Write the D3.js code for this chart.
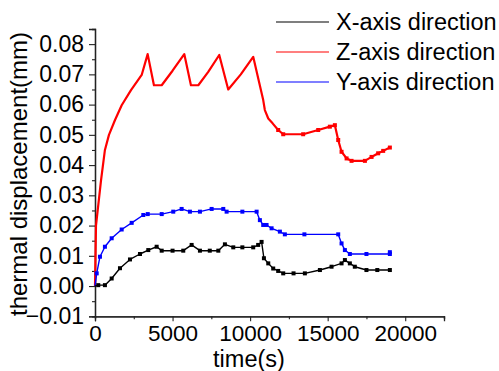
<!DOCTYPE html>
<html>
<head>
<meta charset="utf-8">
<script src="https://cdn.jsdelivr.net/npm/d3@7"></script>
<style>
  html, body { margin: 0; padding: 0; background: #fff; }
  svg { display: block; font-family: Arial, "Liberation Sans", sans-serif; }
</style>
</head>
<body>
<svg id="chart" width="499" height="371"></svg>
<script>
// Time stamps (s) and thermal displacement (mm) for each direction
const timeX = [0, 210, 640, 1075, 1610, 2255, 2900, 3435, 3975, 4300, 5000, 5690, 6230, 6765, 7400, 7950, 8375, 8915, 9500, 10200, 10520, 10740, 10890, 11170, 11490, 11810, 12135, 12800, 13530, 14500, 15250, 15895, 16110, 16430, 16750, 17500, 18200, 19010];
const dispX = [0, 0.0003, 0.0003, 0.0025, 0.0059, 0.0088, 0.0106, 0.0119, 0.0130, 0.0117, 0.0117, 0.0117, 0.0136, 0.0117, 0.0117, 0.0117, 0.0138, 0.0128, 0.0128, 0.0128, 0.0136, 0.0146, 0.0092, 0.0075, 0.0058, 0.0050, 0.0042, 0.0042, 0.0042, 0.0053, 0.0064, 0.0075, 0.0086, 0.0075, 0.0064, 0.0053, 0.0053, 0.0053];

const timeZ = [0, 64, 390, 640, 900, 1290, 1720, 2320, 3010, 3395, 3800, 4300, 5000, 5755, 6185, 6660, 7300, 8010, 8590, 9400, 10200, 10845, 10950, 11170, 11450, 11810, 12135, 13420, 14390, 15140, 15465, 15680, 15895, 16220, 16540, 17400, 17830, 18255, 18580, 19010];
const dispZ = [0, 0.020, 0.035, 0.045, 0.050, 0.0549, 0.0598, 0.0648, 0.0698, 0.0767, 0.0664, 0.0664, 0.0712, 0.0767, 0.0664, 0.0664, 0.0708, 0.0764, 0.0650, 0.0700, 0.0758, 0.0615, 0.0582, 0.0554, 0.0538, 0.0516, 0.0502, 0.0502, 0.0516, 0.0527, 0.0532, 0.0483, 0.0444, 0.0422, 0.0414, 0.0414, 0.0427, 0.0439, 0.0447, 0.0458];

const timeY = [0, 110, 320, 640, 1075, 1720, 2365, 3115, 3400, 4300, 5045, 5585, 6120, 6765, 7520, 8270, 8485, 9500, 10420, 10630, 10845, 11060, 11385, 11920, 12240, 13500, 15680, 15895, 16110, 16430, 17500, 19010, 19010];
const dispY = [0, 0.0042, 0.0097, 0.0130, 0.0158, 0.0187, 0.0209, 0.0235, 0.0238, 0.0238, 0.0246, 0.0255, 0.0246, 0.0246, 0.0255, 0.0255, 0.0246, 0.0246, 0.0246, 0.0218, 0.0202, 0.0202, 0.0191, 0.0180, 0.0171, 0.0171, 0.0171, 0.0141, 0.0119, 0.0106, 0.0106, 0.0106, 0.0112];

const seriesNames = ["X-axis direction", "Z-axis direction", "Y-axis direction"];
const seriesColors = ["#000000", "#ff0000", "#0000ff"];

const xTicks = [0, 5000, 10000, 15000, 20000];
const yTicks = [-0.01, 0.00, 0.01, 0.02, 0.03, 0.04, 0.05, 0.06, 0.07, 0.08];

const svg = d3.select("#chart");

const x = d3.scaleLinear().domain([0, 22500]).range([95, 444]);
const y = d3.scaleLinear().domain([-0.01, 0.085]).range([316.3, 29]);

// Axes: left and bottom only, ticks pointing outward
const yAxis = d3.axisLeft(y).tickValues(yTicks).tickFormat(d3.format(".2f")).tickSize(6).tickPadding(5);
const yMinor = d3.axisLeft(y).tickValues(d3.range(-0.005, 0.085, 0.01)).tickFormat("").tickSize(3);
const xAxis = d3.axisBottom(x).tickValues(xTicks).tickFormat(d3.format("d")).tickSize(5).tickPadding(4);
const xMinor = d3.axisBottom(x).tickValues([2500, 7500, 12500, 17500, 22500]).tickFormat("").tickSize(3);

function styleAxis(g, size) {
  g.select(".domain").attr("stroke", "#222").attr("stroke-width", 1.3);
  g.selectAll(".tick line").attr("stroke", "#222").attr("stroke-width", 1.1);
  g.selectAll(".tick text").attr("fill", "#000").style("font-size", size + "px");
}

svg.append("g").attr("transform", "translate(95,0)").call(yMinor).call(styleAxis, 23);
svg.append("g").attr("transform", "translate(95,0)").call(yAxis).call(styleAxis, 23);
svg.append("g").attr("transform", "translate(0,316.3)").call(xMinor).call(styleAxis, 22.5);
svg.append("g").attr("transform", "translate(0,316.3)").call(xAxis).call(styleAxis, 22.5);

// Axis titles
svg.append("text")
  .attr("x", 249).attr("y", 366.5)
  .attr("text-anchor", "middle")
  .style("font-size", "23.5px")
  .text("time(s)");

svg.append("text")
  .attr("transform", "translate(27,174) rotate(-90)")
  .attr("text-anchor", "middle")
  .style("font-size", "24px")
  .text("thermal displacement(mm)");

// Series lines; small square markers sit on the stepped parts
const series = [
  { t: timeX, v: dispX, color: seriesColors[0], w: 1.4, markFrom: 0 },
  { t: timeZ, v: dispZ, color: seriesColors[1], w: 2.2, markFrom: 11800 },
  { t: timeY, v: dispY, color: seriesColors[2], w: 1.4, markFrom: 0 }
];

const line = d3.line().x(d => x(d[0])).y(d => y(d[1]));

// Draw Z first, then Y and X on top where they overlap near the origin
[series[1], series[2], series[0]].forEach(s => {
  const pts = s.t.map((t, i) => [t, s.v[i]]);
  svg.append("path")
    .datum(pts)
    .attr("fill", "none")
    .attr("stroke", s.color)
    .attr("stroke-width", s.w)
    .attr("stroke-linejoin", "round")
    .attr("d", line);
  svg.append("g").selectAll("rect")
    .data(pts.slice(1).filter(d => d[0] >= s.markFrom))
    .join("rect")
    .attr("x", d => x(d[0]) - 2)
    .attr("y", d => y(d[1]) - 2)
    .attr("width", 4)
    .attr("height", 4)
    .attr("fill", s.color);
});

// Legend
const legend = svg.append("g");
seriesNames.forEach((name, i) => {
  const yy = 22 + i * 30;
  legend.append("line")
    .attr("x1", 276).attr("x2", 329)
    .attr("y1", yy).attr("y2", yy)
    .attr("stroke", seriesColors[i])
    .attr("stroke-width", 1.2);
  legend.append("text")
    .attr("x", 336).attr("y", yy + 8)
    .style("font-size", "23.5px")
    .text(name);
});
</script>
</body>
</html>
